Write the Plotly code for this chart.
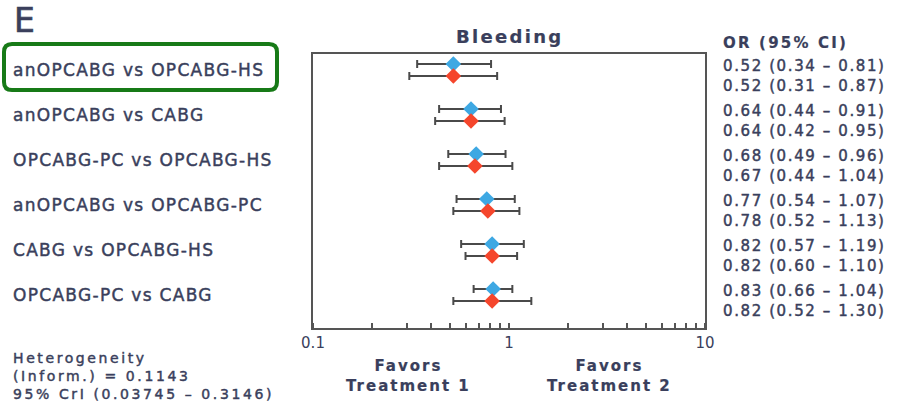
import plotly.graph_objects as go

# ---------------- data ----------------
comparisons = ["anOPCABG vs OPCABG-HS", "anOPCABG vs CABG", "OPCABG-PC vs OPCABG-HS",
               "anOPCABG vs OPCABG-PC", "CABG vs OPCABG-HS", "OPCABG-PC vs CABG"]
blue_or = [0.52, 0.64, 0.68, 0.77, 0.82, 0.83]
blue_lo = [0.34, 0.44, 0.49, 0.54, 0.57, 0.66]
blue_hi = [0.81, 0.91, 0.96, 1.07, 1.19, 1.04]
red_or = [0.52, 0.64, 0.67, 0.78, 0.82, 0.82]
red_lo = [0.31, 0.42, 0.44, 0.52, 0.60, 0.52]
red_hi = [0.87, 0.95, 1.04, 1.13, 1.10, 1.30]
tick_vals = [0.1, 1, 10]
tick_text = ["0.1", "1", "10"]
title = "Bleeding"
het_lines = ["Heterogeneity", "(Inform.) = 0.1143", "95% CrI (0.03745 – 0.3146)"]

TXT = "#3a3f5c"
FONT = "DejaVu Sans"
W, H = 902, 403
L, R, T, B = 313, 705, 54, 328  # plot box in px

n = len(comparisons)
yc = [n - 1 - k for k in range(n)]
off = 0.133
yb = [y + off for y in yc]
yr = [y - off for y in yc]


def px_to_paper_x(px):
    return (px - L) / (R - L)


def px_to_paper_y(py):
    return (B - py) / (B - T)


def sp(text, ls, sw=0.45):
    return (f'<span style="letter-spacing:{ls}px;stroke:{TXT};stroke-width:{sw}px">'
            f'{text}</span>')


fig = go.Figure()
for ors, lo, hi, ys, col in [(blue_or, blue_lo, blue_hi, yb, "#3ea8e3"),
                             (red_or, red_lo, red_hi, yr, "#f5462c")]:
    fig.add_trace(go.Scatter(
        x=ors, y=ys, mode="markers",
        marker=dict(symbol="diamond", size=12, color=col, line=dict(width=0)),
        error_x=dict(type="data", symmetric=False,
                     array=[h - o for h, o in zip(hi, ors)],
                     arrayminus=[o - l for o, l in zip(ors, lo)],
                     color="#4a4a4a", thickness=2, width=4),
        showlegend=False, hoverinfo="skip"))

annotations = []
for k, name in enumerate(comparisons):
    annotations.append(dict(xref="paper", yref="y", x=px_to_paper_x(11), y=yc[k],
                            xanchor="left", yanchor="middle", text=sp(name, 1.3), showarrow=False,
                            font=dict(size=17, color=TXT, family=FONT)))
    t1 = f"{blue_or[k]:.2f} ({blue_lo[k]:.2f} – {blue_hi[k]:.2f})"
    t2 = f"{red_or[k]:.2f} ({red_lo[k]:.2f} – {red_hi[k]:.2f})"
    annotations.append(dict(xref="paper", yref="y", x=px_to_paper_x(721), y=yc[k] - 0.14,
                            xanchor="left", yanchor="middle", showarrow=False, align="left",
                            text=sp(t1, 1.6) + "<br>" + sp(t2, 1.6),
                            font=dict(size=15, color=TXT, family=FONT)))

annotations += [
    dict(xref="paper", yref="paper", x=px_to_paper_x(12), y=px_to_paper_y(20), xanchor="left",
         yanchor="middle", text=sp("E", 0, 0.7), showarrow=False,
         font=dict(size=33, color=TXT, family=FONT)),
    dict(xref="paper", yref="paper", x=0.5, y=px_to_paper_y(37), xanchor="center",
         yanchor="middle", text=f"<b>{sp(title, 2.3, 0.2)}</b>", showarrow=False,
         font=dict(size=18, color=TXT, family=FONT)),
    dict(xref="paper", yref="paper", x=px_to_paper_x(721), y=px_to_paper_y(43), xanchor="left",
         yanchor="middle", text=f"<b>{sp('OR (95% CI)', 2.2, 0.2)}</b>", showarrow=False,
         font=dict(size=15, color=TXT, family=FONT)),
    dict(xref="x", yref="paper", x=-0.515, y=px_to_paper_y(376), xanchor="center",
         yanchor="middle", showarrow=False,
         text=f"<b>{sp('Favors', 2, 0.2)}<br>{sp('Treatment 1', 2, 0.2)}</b>",
         font=dict(size=15, color=TXT, family=FONT)),
    dict(xref="x", yref="paper", x=0.515, y=px_to_paper_y(376), xanchor="center",
         yanchor="middle", showarrow=False,
         text=f"<b>{sp('Favors', 2, 0.2)}<br>{sp('Treatment 2', 2, 0.2)}</b>",
         font=dict(size=15, color=TXT, family=FONT)),
    dict(xref="paper", yref="paper", x=px_to_paper_x(11), y=px_to_paper_y(376), xanchor="left",
         yanchor="middle", align="left", text="<br>".join(sp(t, 2.6) for t in het_lines),
         showarrow=False, font=dict(size=14, color=TXT, family=FONT)),
]

# rounded green highlight box (paper coords)
x0, x1 = px_to_paper_x(4), px_to_paper_x(277)
y0, y1 = px_to_paper_y(44), px_to_paper_y(90)
rx, ry = 8 / (R - L), 8 / (B - T)
path = (f"M {x0+rx},{y0} L {x1-rx},{y0} Q {x1},{y0} {x1},{y0-ry} "
        f"L {x1},{y1+ry} Q {x1},{y1} {x1-rx},{y1} "
        f"L {x0+rx},{y1} Q {x0},{y1} {x0},{y1+ry} "
        f"L {x0},{y0-ry} Q {x0},{y0} {x0+rx},{y0} Z")

shapes = [
    dict(type="line", xref="x", yref="paper", x0=0, x1=0, y0=0, y1=1,
         line=dict(color="#555555", width=2), layer="below"),
    dict(type="path", xref="paper", yref="paper", path=path,
         line=dict(color="#177a17", width=4)),
]

fig.update_layout(
    width=W, height=H,
    margin=dict(l=L, r=W - R, t=T, b=H - B),
    paper_bgcolor="white", plot_bgcolor="white",
    annotations=annotations, shapes=shapes,
    xaxis=dict(type="log", range=[-1, 1], tickvals=tick_vals, ticktext=tick_text,
               ticks="", showgrid=False, zeroline=False,
               showline=True, mirror=True, linecolor="#555555", linewidth=2,
               tickfont=dict(size=15, color=TXT, family=FONT),
               minor=dict(ticks="inside", ticklen=5, tickwidth=2, tickcolor="#555555",
                          dtick="D1", showgrid=False)),
    yaxis=dict(range=[-0.733, n - 1 + 0.356], showticklabels=False, ticks="",
               showgrid=False, zeroline=False,
               showline=True, mirror=True, linecolor="#555555", linewidth=2),
)

fig.write_html("out.html", config={"displayModeBar": False},
               post_script="document.body.style.margin='0';")
